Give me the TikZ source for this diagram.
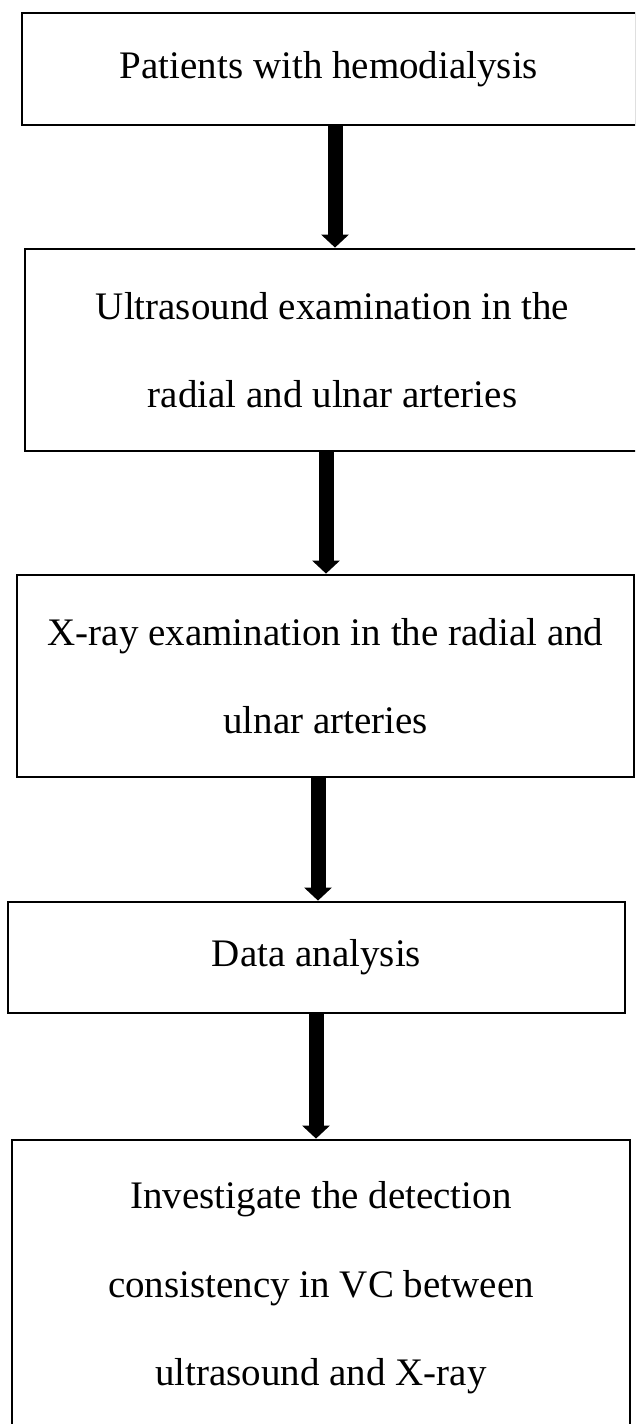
\documentclass[tikz,border=0pt]{standalone}
\usepackage{fontspec}
\setmainfont{Liberation Serif}
\usetikzlibrary{arrows.meta}
\tikzset{
  box/.style={draw=black, line width=2.8pt, rectangle, inner sep=0pt, align=center,
    font=\fontsize{39pt}{88.5pt}\selectfont},
  flow/.style={line width=15pt, line cap=butt, -{Triangle[width=27pt,length=13pt]}}
}
\begin{document}
\begin{tikzpicture}[x=1pt,y=-1pt]
\useasboundingbox (0,0) rectangle (635,1424);
\clip (0,0) rectangle (635,1424);
\node[box, minimum width=614pt, minimum height=112pt] (b1) at (329,69)
  {Patients with hemodialysis};
\node[box, minimum width=615pt, minimum height=202pt] (b2) at (332.5,350)
  {Ultrasound examination in the\\radial and ulnar arteries};
\node[box, minimum width=617pt, minimum height=202pt] (b3) at (325.5,676)
  {X-ray examination in the radial and\\ulnar arteries};
\node[box, minimum width=617pt, minimum height=111pt] (b4) at (316.5,957.5)
  {Data analysis};
\node[box, minimum width=618pt, minimum height=296pt] (b5) at (321,1288)
  {Investigate the detection\\consistency in VC between\\ultrasound and X-ray};
\coordinate (x1) at (335,0);
\coordinate (x2) at (326,0);
\coordinate (x3) at (318,0);
\coordinate (x4) at (316,0);
\draw[flow] (b1.south -| x1) -- (b2.north -| x1);
\draw[flow] (b2.south -| x2) -- (b3.north -| x2);
\draw[flow] (b3.south -| x3) -- (b4.north -| x3);
\draw[flow] (b4.south -| x4) -- (b5.north -| x4);
\end{tikzpicture}
\end{document}
